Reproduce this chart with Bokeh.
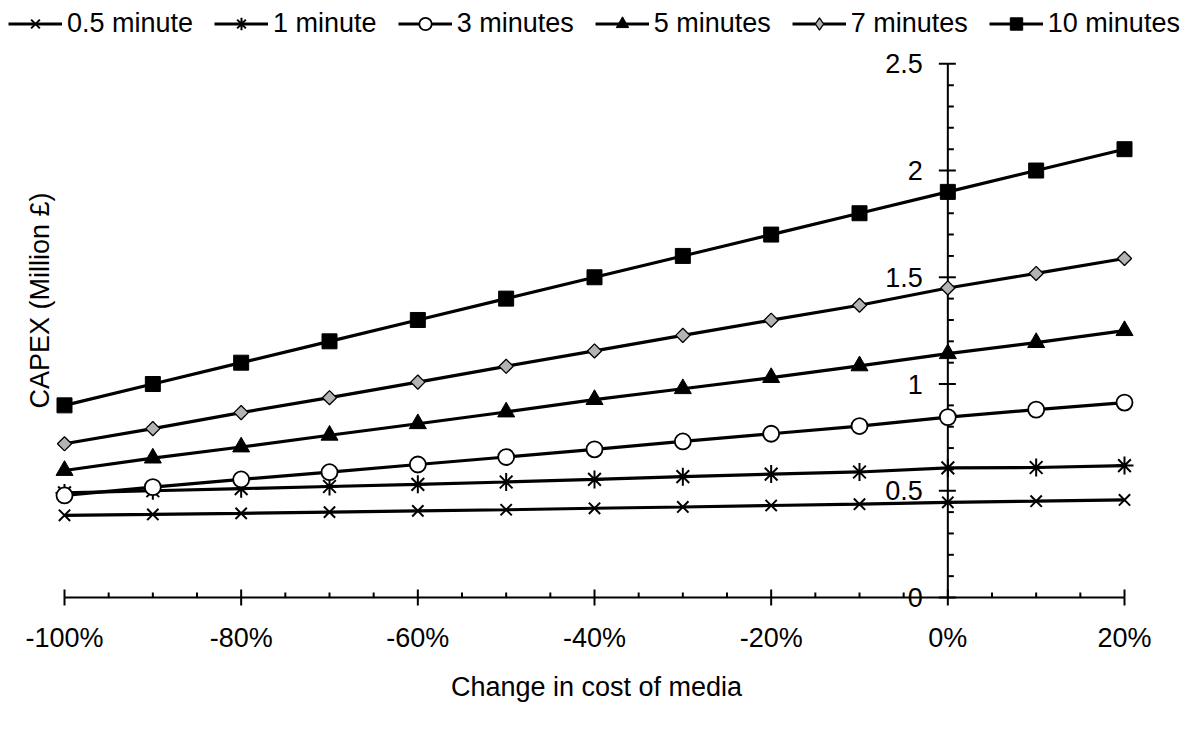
import math
from bokeh.plotting import figure
from bokeh.models import Range1d, ColumnDataSource, Legend, LegendItem, Label
from bokeh.core.properties import value
from bokeh.embed import file_html
from bokeh.resources import INLINE

# ---------------- data ----------------
change_pct = [-100, -90, -80, -70, -60, -50, -40, -30, -20, -10, 0, 10, 20]
capex_05min = [0.385, 0.389, 0.394, 0.400, 0.406, 0.411, 0.418, 0.424, 0.431, 0.437, 0.446, 0.451, 0.457]
capex_1min = [0.490, 0.500, 0.510, 0.520, 0.530, 0.541, 0.553, 0.566, 0.578, 0.588, 0.607, 0.609, 0.618]
capex_3min = [0.478, 0.517, 0.553, 0.587, 0.623, 0.658, 0.694, 0.731, 0.767, 0.803, 0.845, 0.880, 0.913]
capex_5min = [0.595, 0.653, 0.705, 0.760, 0.814, 0.869, 0.927, 0.978, 1.030, 1.085, 1.142, 1.194, 1.250]
capex_7min = [0.720, 0.791, 0.866, 0.936, 1.009, 1.083, 1.155, 1.228, 1.299, 1.369, 1.450, 1.518, 1.588]
capex_10min = [0.900, 1.000, 1.100, 1.200, 1.300, 1.400, 1.500, 1.600, 1.700, 1.800, 1.900, 2.000, 2.100]
series_names = ["0.5 minute", "1 minute", "3 minutes", "5 minutes", "7 minutes", "10 minutes"]

x_major_ticks = [-100, -80, -60, -40, -20, 0, 20]
x_tick_labels = ["-100%", "-80%", "-60%", "-40%", "-20%", "0%", "20%"]
x_minor_ticks = [-95, -90, -85, -75, -70, -65, -55, -50, -45, -35, -30, -25, -15, -10, -5, 5, 10, 15]
y_major_ticks = [0, 0.5, 1, 1.5, 2, 2.5]
y_tick_labels = ["0", "0.5", "1", "1.5", "2", "2.5"]
y_minor_ticks = [0.1, 0.2, 0.3, 0.4, 0.6, 0.7, 0.8, 0.9, 1.1, 1.2, 1.3, 1.4,
                 1.6, 1.7, 1.8, 1.9, 2.1, 2.2, 2.3, 2.4]
x_title = "Change in cost of media"
y_title = "CAPEX (Million £)"

# ---------------- layout ----------------
W, H = 1192, 729
XMIN, XMAX = -100, 20
YMIN, YMAX = 0, 2.5
PX_L, PX_R = 64, 1124      # screen x of XMIN / XMAX
PY_B, PY_T = 597, 63.3     # screen y of YMIN / YMAX
sx = (PX_R - PX_L) / (XMAX - XMIN)
sy = (PY_B - PY_T) / (YMAX - YMIN)
x_range = Range1d(XMIN - PX_L / sx, XMAX + (W - PX_R) / sx)
y_range = Range1d(YMIN - (H - PY_B) / sy, YMAX + PY_T / sy)

FONT = "Liberation Sans"
FS = "27px"

p = figure(width=W, height=H, x_range=x_range, y_range=y_range,
           output_backend="svg", toolbar_location=None, min_border=0,
           x_axis_location=None, y_axis_location=None,
           outline_line_color=None, background_fill_color="white",
           border_fill_color="white")
p.grid.visible = False

# ---------------- axes (drawn at y=0 and x=0) ----------------
p.segment(x0=[XMIN], y0=[0], x1=[XMAX], y1=[0], line_color="black", line_width=2)
p.segment(x0=[0], y0=[YMIN], x1=[0], y1=[YMAX], line_color="black", line_width=2)

# x ticks
p.ray(x=x_major_ticks, y=[0] * len(x_major_ticks), length=8, angle=math.pi / 2,
      length_units="screen", line_color="black", line_width=2)
p.ray(x=x_major_ticks, y=[0] * len(x_major_ticks), length=8, angle=-math.pi / 2,
      length_units="screen", line_color="black", line_width=2)
p.ray(x=x_minor_ticks, y=[0] * len(x_minor_ticks), length=5, angle=math.pi / 2,
      length_units="screen", line_color="black", line_width=2)
# y ticks
p.ray(x=[0] * len(y_major_ticks), y=y_major_ticks, length=9, angle=math.pi,
      length_units="screen", line_color="black", line_width=2)
p.ray(x=[0] * len(y_major_ticks), y=y_major_ticks, length=8, angle=0,
      length_units="screen", line_color="black", line_width=2)
p.ray(x=[0] * len(y_minor_ticks), y=y_minor_ticks, length=6, angle=0,
      length_units="screen", line_color="black", line_width=2)

# tick labels
p.text(x=x_major_ticks, y=[0] * len(x_major_ticks), text=x_tick_labels,
       text_align="center", text_baseline="alphabetic", y_offset=40,
       text_font=value(FONT), text_font_size=FS, text_color="black")
p.text(x=[0] * len(y_major_ticks), y=y_major_ticks, text=y_tick_labels,
       text_align="right", text_baseline="middle", x_offset=-25,
       text_font=value(FONT), text_font_size=FS, text_color="black")

# axis titles
p.add_layout(Label(x=596, y=H - 686, x_units="screen", y_units="screen", text=x_title,
                   text_align="center", text_baseline="middle",
                   text_font=FONT, text_font_size=FS, text_color="black"))
p.add_layout(Label(x=39, y=H - 300, x_units="screen", y_units="screen", text=y_title,
                   angle=math.pi / 2, text_align="center", text_baseline="middle",
                   text_font=FONT, text_font_size=FS, text_color="black"))

# ---------------- series ----------------
series = [capex_05min, capex_1min, capex_3min, capex_5min, capex_7min, capex_10min]
styles = [
    dict(marker="x", size=16, fill_color=None, line_color="black", line_width=2),
    dict(marker="asterisk", size=18, fill_color=None, line_color="black", line_width=2),
    dict(marker="circle", size=16, fill_color="white", line_color="black", line_width=1.8),
    dict(marker="triangle", size=17, fill_color="black", line_color="black", line_width=1),
    dict(marker="square", size=10, angle=math.pi / 4, fill_color="#b3b3b3", line_color="black", line_width=1.3),
    dict(marker="square", size=15, fill_color="black", line_color="black", line_width=1),
]

items = []
for name, vals, st in zip(series_names, series, styles):
    src = ColumnDataSource(dict(x=change_pct, y=vals))
    lr = p.line("x", "y", source=src, line_color="black", line_width=3.2)
    sr = p.scatter("x", "y", source=src, **st)
    if st.get("angle"):
        # legend-only diamond (legend ignores marker angle)
        leg = p.scatter("x", "y", source=src, marker="diamond", size=14,
                        fill_color=st["fill_color"], line_color="black", line_width=1.3)
        leg.visible = False
        items.append(LegendItem(label=name, renderers=[lr, leg]))
    else:
        items.append(LegendItem(label=name, renderers=[lr, sr]))

legend = Legend(items=items, orientation="horizontal", location=(8, 690),
                glyph_width=54, glyph_height=31, label_standoff=5, spacing=21,
                padding=0, margin=0, border_line_color=None, background_fill_alpha=0,
                label_text_font=FONT, label_text_font_size=FS, label_text_color="black",
                click_policy="none")
p.add_layout(legend)

open("out.html", "w").write(file_html(p, INLINE))
